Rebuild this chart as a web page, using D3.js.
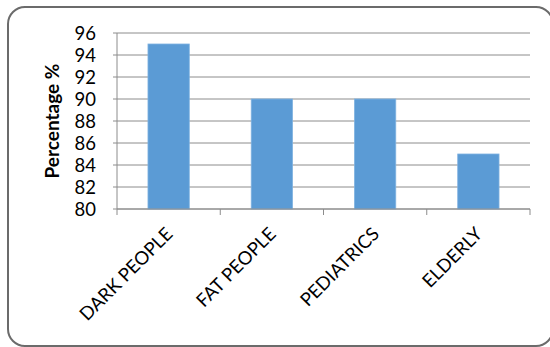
<!DOCTYPE html>
<html><head><meta charset="utf-8">
<script src="https://cdn.jsdelivr.net/npm/d3@7"></script>
<style>body{margin:0;background:#fff}svg{display:block}</style>
</head><body>
<script>
const categories = ["DARK PEOPLE", "FAT PEOPLE", "PEDIATRICS", "ELDERLY"];
const values = [95, 90, 90, 85];
const yTicks = [80, 82, 84, 86, 88, 90, 92, 94, 96];
const yTitle = "Percentage %";

(function () {
const W = 550, H = 347;
const svg = d3.select("body").append("svg").attr("width", W).attr("height", H);
const font = "Lato, 'Open Sans', sans-serif";

svg.append("rect").attr("x", 8).attr("y", 7).attr("width", 545).attr("height", 339)
  .attr("rx", 17).attr("fill", "#fff").attr("stroke", "#6b6b6b").attr("stroke-width", 2);

const pl = 117, pr = 530, pt = 33, pb = 209;
const x = d3.scaleBand().domain(categories).range([pl, pr]).padding(0);
const y = d3.scaleLinear().domain([80, 96]).range([pb, pt]);

// gridlines
svg.append("g").selectAll("line").data(yTicks).join("line")
  .attr("x1", pl - 4).attr("x2", pr)
  .attr("y1", d => y(d)).attr("y2", d => y(d))
  .attr("stroke", "#8c8c8c").attr("stroke-width", 1);

// bars
const bw = x.bandwidth() * 0.4;
svg.append("g").selectAll("rect").data(values).join("rect")
  .attr("x", (d, i) => x(categories[i]) + x.bandwidth() / 2 - bw / 2)
  .attr("width", bw)
  .attr("y", d => y(d))
  .attr("height", d => y(80) - y(d))
  .attr("fill", "#5b9bd5").attr("stroke", "#7fb2e0").attr("stroke-width", 0.8);

// y axis
svg.append("line").attr("x1", pl).attr("x2", pl).attr("y1", pt).attr("y2", pb)
  .attr("stroke", "#8c8c8c");
svg.append("g").selectAll("text").data(yTicks).join("text")
  .attr("x", 96).attr("y", d => y(d)).attr("dy", "0.36em")
  .attr("text-anchor", "end").attr("font-family", font).attr("font-size", 18.5)
  .attr("fill", "#000").text(d => d);

// x axis
svg.append("line").attr("x1", pl).attr("x2", pr).attr("y1", pb).attr("y2", pb)
  .attr("stroke", "#8c8c8c");
const xt = categories.map(c => x(c)).concat([pr]);
svg.append("g").selectAll("line").data(xt).join("line")
  .attr("x1", d => d).attr("x2", d => d).attr("y1", pb).attr("y2", pb + 6)
  .attr("stroke", "#8c8c8c");

svg.append("g").selectAll("text").data(categories).join("text")
  .attr("transform", d => `translate(${x(d) + x.bandwidth() / 2 - 4},${pb + 17}) rotate(-45)`)
  .attr("text-anchor", "end").attr("dy", "0.7em")
  .attr("font-family", font).attr("font-size", 18.5).attr("fill", "#000").text(d => d);

svg.append("text")
  .attr("transform", `translate(52,${(pt + pb) / 2}) rotate(-90)`)
  .attr("text-anchor", "middle").attr("dy", "0.35em")
  .attr("font-family", font).attr("font-size", 19).attr("font-weight", "bold")
  .attr("fill", "#000").text(yTitle);
})();
</script>
</body></html>
